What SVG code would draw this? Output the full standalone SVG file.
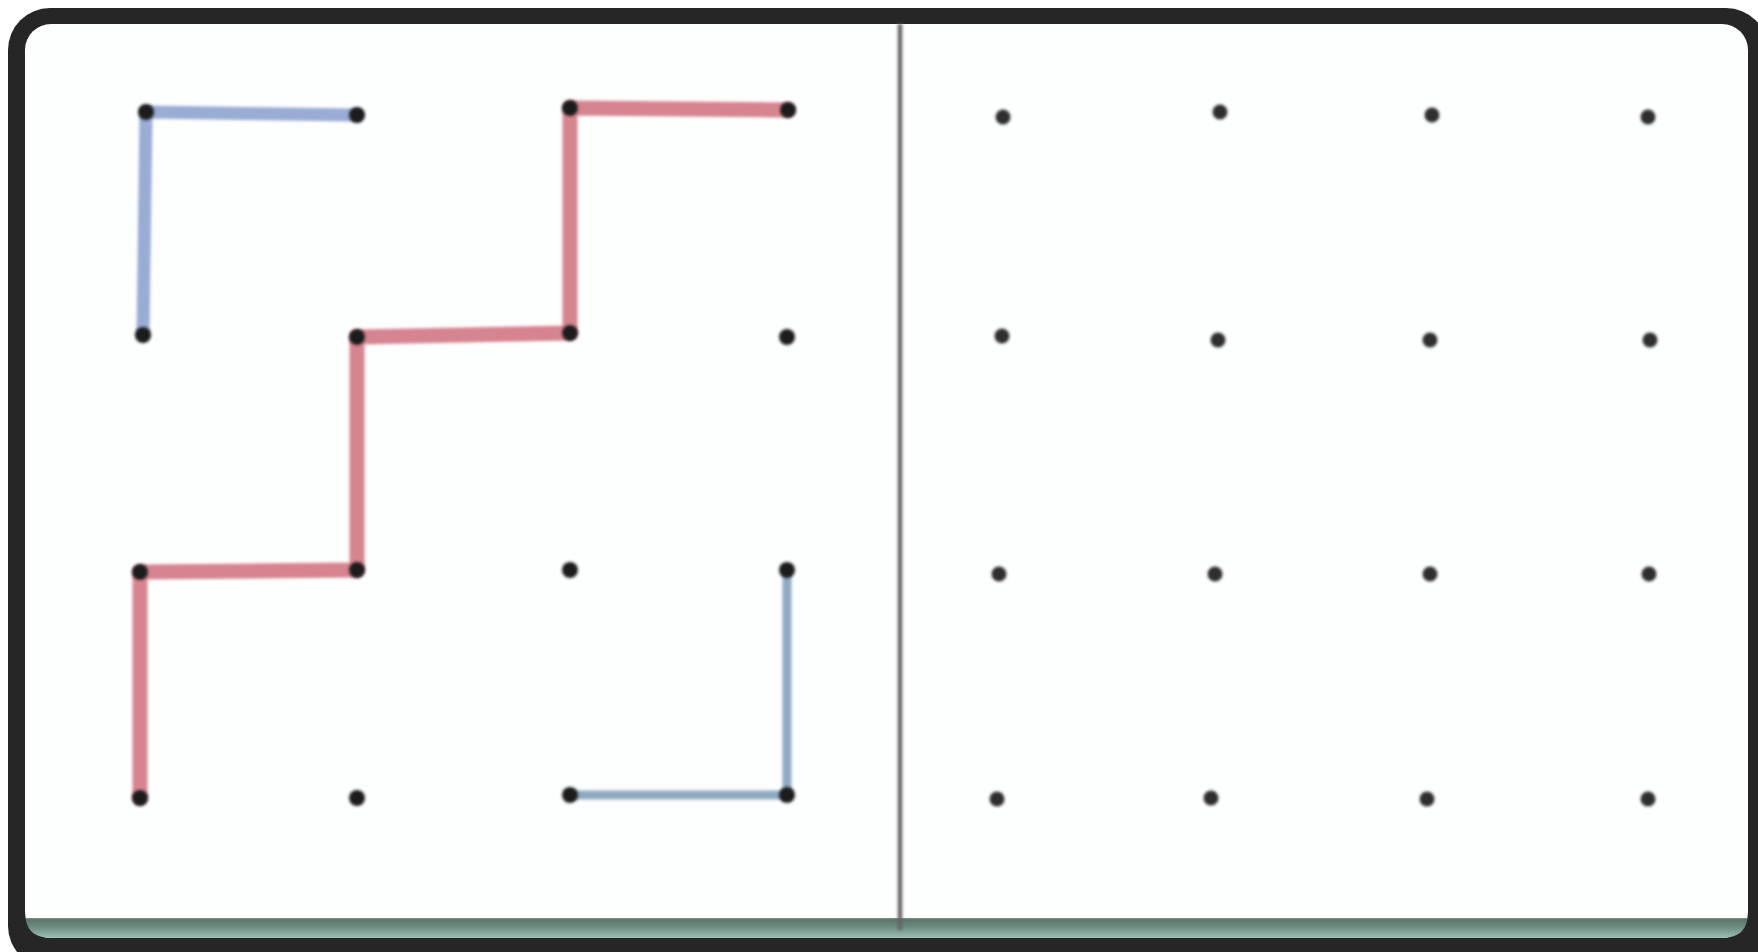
<svg xmlns="http://www.w3.org/2000/svg" width="1758" height="952" viewBox="0 0 1758 952">
<defs>
<style>
.dot{fill:#1c1c1c}
.dotr{fill:#2e2e2e}
.red{fill:none;stroke:#d6848f;stroke-width:15;stroke-linecap:round;stroke-linejoin:round}
.blue{fill:none;stroke:#98acd4;stroke-width:13;stroke-linecap:round;stroke-linejoin:round}
.blue2{fill:none;stroke:#8eaac0;stroke-width:9;stroke-linecap:round;stroke-linejoin:round}
</style>
<filter id="soft" filterUnits="userSpaceOnUse" x="0" y="0" width="1758" height="952"><feGaussianBlur stdDeviation="1.6"/></filter>
<linearGradient id="band" x1="0" y1="0" x2="0" y2="1">
<stop offset="0" stop-color="#f4f7f6"/>
<stop offset="0.3" stop-color="#5d7569"/>
<stop offset="0.6" stop-color="#6f8f84"/>
<stop offset="1" stop-color="#9ec0b4"/>
</linearGradient>
</defs>
<rect x="0" y="0" width="1758" height="952" fill="#ffffff"/>
<rect x="8" y="8" width="1760" height="960" rx="42" fill="#262626"/>
<rect x="25" y="24" width="1723" height="914" rx="26" fill="#fdfefe"/>
<path d="M25 918 L1748 918 L1748 912 Q1748 938 1722 938 L51 938 Q25 938 25 912 Z" fill="url(#band)"/>
<line x1="900" y1="24" x2="900" y2="930" stroke="#666666" stroke-width="4.5" filter="url(#soft)"/>
<g id="connectors" filter="url(#soft)">
<path class="blue" d="M357 115 L146 112 L143 335"/>
<path class="red" d="M788 110 L570 108 L570 333 L357 337 L357 570 L140 572 L140 798"/>
<path class="blue2" d="M570 795 L787 795 L787 570"/>
</g>
<g filter="url(#soft)">
<g id="L11"><circle class="dot" cx="146" cy="112" r="8"/></g>
<g id="L12"><circle class="dot" cx="357" cy="115" r="8"/></g>
<g id="L13"><circle class="dot" cx="570" cy="108" r="8"/></g>
<g id="L14"><circle class="dot" cx="788" cy="110" r="8"/></g>
<g id="L21"><circle class="dot" cx="143" cy="335" r="8"/></g>
<g id="L22"><circle class="dot" cx="357" cy="337" r="8"/></g>
<g id="L23"><circle class="dot" cx="570" cy="333" r="8"/></g>
<g id="L24"><circle class="dot" cx="787" cy="337" r="8"/></g>
<g id="L31"><circle class="dot" cx="140" cy="572" r="8"/></g>
<g id="L32"><circle class="dot" cx="357" cy="570" r="8"/></g>
<g id="L33"><circle class="dot" cx="570" cy="570" r="8"/></g>
<g id="L34"><circle class="dot" cx="787" cy="570" r="8"/></g>
<g id="L41"><circle class="dot" cx="140" cy="798" r="8"/></g>
<g id="L42"><circle class="dot" cx="357" cy="798" r="8"/></g>
<g id="L43"><circle class="dot" cx="570" cy="795" r="8"/></g>
<g id="L44"><circle class="dot" cx="787" cy="795" r="8"/></g>
<g id="R11"><circle class="dotr" cx="1003" cy="117" r="7.5"/></g>
<g id="R12"><circle class="dotr" cx="1220" cy="112" r="7.5"/></g>
<g id="R13"><circle class="dotr" cx="1432" cy="115" r="7.5"/></g>
<g id="R14"><circle class="dotr" cx="1648" cy="117" r="7.5"/></g>
<g id="R21"><circle class="dotr" cx="1002" cy="336" r="7.5"/></g>
<g id="R22"><circle class="dotr" cx="1218" cy="340" r="7.5"/></g>
<g id="R23"><circle class="dotr" cx="1430" cy="340" r="7.5"/></g>
<g id="R24"><circle class="dotr" cx="1650" cy="340" r="7.5"/></g>
<g id="R31"><circle class="dotr" cx="999" cy="574" r="7.5"/></g>
<g id="R32"><circle class="dotr" cx="1215" cy="574" r="7.5"/></g>
<g id="R33"><circle class="dotr" cx="1430" cy="574" r="7.5"/></g>
<g id="R34"><circle class="dotr" cx="1649" cy="574" r="7.5"/></g>
<g id="R41"><circle class="dotr" cx="997" cy="799" r="7.5"/></g>
<g id="R42"><circle class="dotr" cx="1211" cy="798" r="7.5"/></g>
<g id="R43"><circle class="dotr" cx="1427" cy="799" r="7.5"/></g>
<g id="R44"><circle class="dotr" cx="1648" cy="799" r="7.5"/></g>
</g>
</svg>
